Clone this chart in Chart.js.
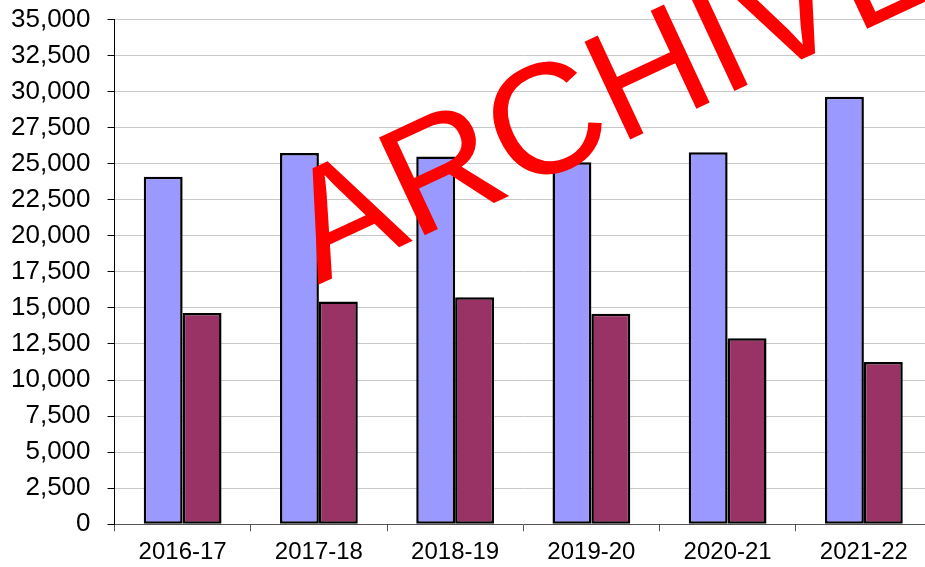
<!DOCTYPE html>
<html>
<head>
<meta charset="utf-8">
<script src="https://cdn.jsdelivr.net/npm/chart.js@4"></script>
<style>
  html, body { margin: 0; padding: 0; background: #fff; overflow: hidden; }
  #wrap { position: absolute; left: 0; top: -13px; width: 950px; height: 587px; }
</style>
</head>
<body>
<div id="wrap"><canvas id="chart"></canvas></div>
<script>
const categories = ["2016-17", "2017-18", "2018-19", "2019-20", "2020-21", "2021-22"];
const seriesA = [24100, 25750, 25500, 25100, 25800, 29650];
const seriesB = [14650, 15450, 15750, 14600, 12900, 11250];
const yMax = 35000;
const yStep = 2500;
const watermark = "ARCHIVE";

// red stamp drawn over the bars
const watermarkPlugin = {
  id: "watermark",
  afterDraw(chart) {
    const ctx = chart.ctx;
    ctx.save();
    ctx.translate(318, 285 + 13);
    ctx.rotate(-25 * Math.PI / 180);
    ctx.font = "157px 'Liberation Sans', Arial, sans-serif";
    ctx.fillStyle = "#ff0000";
    ctx.textBaseline = "alphabetic";
    ctx.fillText(watermark, 0, 0);
    ctx.restore();
  },
};

const ctx = document.getElementById("chart").getContext("2d");
new Chart(ctx, {
  type: "bar",
  data: {
    labels: categories,
    datasets: [
      {
        data: seriesA,
        backgroundColor: "#9999ff",
        borderColor: "#000000",
        borderWidth: 2.5,
        borderSkipped: false,
      },
      {
        data: seriesB,
        backgroundColor: "#993366",
        borderColor: "#000000",
        borderWidth: 2.5,
        borderSkipped: false,
      },
    ],
  },
  options: {
    responsive: true,
    maintainAspectRatio: false,
    animation: false,
    layout: { padding: { left: -6, right: 18, top: -5, bottom: 0 } },
    datasets: { bar: { categoryPercentage: 0.571, barPercentage: 1 } },
    plugins: {
      legend: { display: false },
      tooltip: { enabled: false },
    },
    scales: {
      x: {
        grid: {
          drawOnChartArea: false,
          drawTicks: true,
          tickLength: 7,
          tickColor: "#555555",
        },
        border: { color: "#555555", width: 1 },
        ticks: {
          color: "#000000",
          padding: 7,
          maxRotation: 0,
          font: { family: "'Liberation Sans', Arial, sans-serif", size: 24 },
        },
      },
      y: {
        min: 0,
        max: yMax,
        grid: {
          color: "#c8c8c8",
          lineWidth: 1,
          tickLength: 7,
          tickColor: "#000000",
        },
        border: { color: "#000000", width: 1 },
        ticks: {
          stepSize: yStep,
          color: "#000000",
          padding: 17,
          font: { family: "'Liberation Sans', Arial, sans-serif", size: 26 },
          callback: (value) => value.toLocaleString("en-US"),
        },
      },
    },
  },
  plugins: [watermarkPlugin],
});
</script>
</body>
</html>
